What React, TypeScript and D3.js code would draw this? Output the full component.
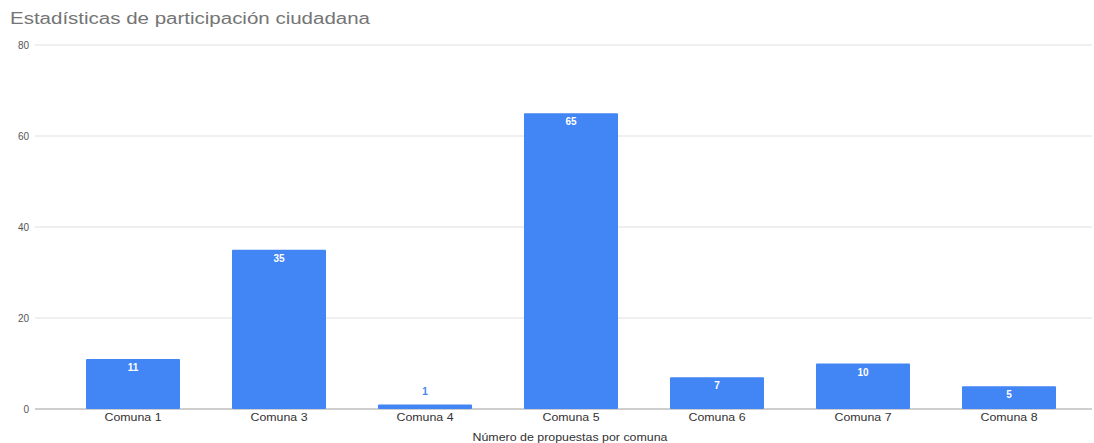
import React from "react";
import * as d3 from "d3";

const categories = ["Comuna 1", "Comuna 3", "Comuna 4", "Comuna 5", "Comuna 6", "Comuna 7", "Comuna 8"];
const values = [11, 35, 1, 65, 7, 10, 5];
const yTicks = [0, 20, 40, 60, 80];
const title = "Estadísticas de participación ciudadana";
const xTitle = "Número de propuestas por comuna";

const W = 1094;
const H = 443;
const FONT = "'Liberation Sans', Arial, sans-serif";

export default function App() {
  const x = d3.scaleBand<string>().domain(categories).range([60, 1082]).paddingInner(0.356).paddingOuter(0.178);
  const y = d3.scaleLinear().domain([0, 80]).range([409, 45]);
  const gridLeft = 35;
  const gridRight = 1092;
  return (
    <svg width={W} height={H} style={{ position: "absolute", left: 0, top: 0, background: "#fff" }} fontFamily={FONT}>
      <rect width={W} height={H} fill="#fff" />
      <text x={10} y={24} fontSize={16} fill="#757575" textLength={360} lengthAdjust="spacingAndGlyphs">{title}</text>
      {yTicks.map((t) => (
        <g key={t}>
          <line x1={gridLeft} x2={gridRight} y1={y(t)} y2={y(t)} stroke={t === 0 ? "#9e9e9e" : "#e0e0e0"} strokeWidth={1} />
          <text x={29} y={y(t) + 3.5} fontSize={10} fill="#555" textAnchor="end">{t}</text>
        </g>
      ))}
      {categories.map((c, i) => {
        const v = values[i];
        const bx = x(c)!;
        const bw = x.bandwidth();
        const top = y(v);
        const h = y(0) - top;
        const inside = h > 16;
        return (
          <g key={c}>
            <rect x={bx} y={top} width={bw} height={h} fill="#4285f4" rx={1} />
            <text
              x={bx + bw / 2}
              y={inside ? top + 12 : top - 9}
              fontSize={10}
              fontWeight="bold"
              fill={inside ? "#ffffff" : "#4285f4"}
              textAnchor="middle"
            >
              {v}
            </text>
            <text x={bx + bw / 2} y={421} fontSize={10} fill="#333" textAnchor="middle" textLength={57} lengthAdjust="spacingAndGlyphs">{c}</text>
          </g>
        );
      })}
      <text x={570} y={441} fontSize={10} fill="#333" textAnchor="middle" textLength={195} lengthAdjust="spacingAndGlyphs">{xTitle}</text>
    </svg>
  );
}
